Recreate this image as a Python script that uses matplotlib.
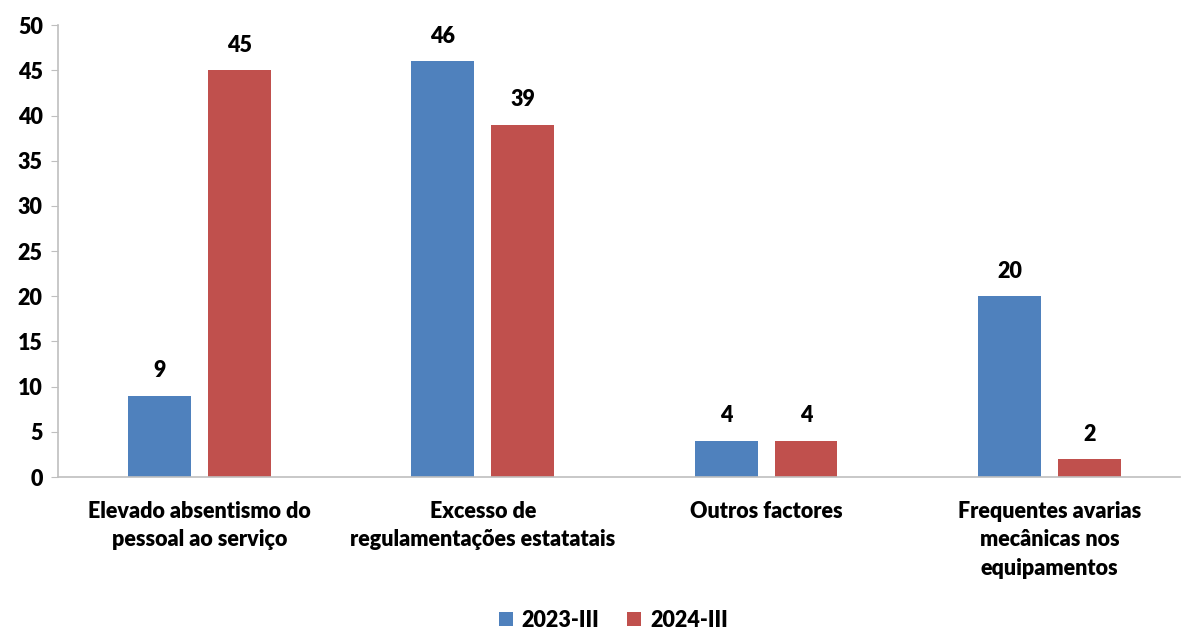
import numpy as np
import matplotlib.pyplot as plt

categories = ['Elevado absentismo do\npessoal ao serviço',
              'Excesso de\nregulamentações estatatais',
              'Outros factores',
              'Frequentes avarias\nmecânicas nos\nequipamentos']
series_names = ['2023-III', '2024-III']
vals_2023 = [9, 46, 4, 20]
vals_2024 = [45, 39, 4, 2]

colors = ['#4F81BD', '#C0504D']
plt.rcParams['font.family'] = ['Lato', 'DejaVu Sans']
fw = 'heavy'
fs = 15.5

fig = plt.figure(figsize=(11.84, 6.31), dpi=100)
ax = fig.add_axes([0.049, 0.244, 0.9476, 0.716])

x = np.arange(len(categories))
w = 0.222
off = 0.141
b1 = ax.bar(x - off, vals_2023, w, color=colors[0], label=series_names[0])
b2 = ax.bar(x + off, vals_2024, w, color=colors[1], label=series_names[1])

for bars in (b1, b2):
    for b in bars:
        ax.text(b.get_x() + b.get_width() / 2, b.get_height() + 1.6,
                '%d' % b.get_height(), ha='center', va='bottom',
                fontsize=fs, fontweight=fw)

# axis line is cut by the picture edge on the right
ax.set_xlim(-0.5, len(categories) - 0.5 - 11 / 283.3)
ax.set_ylim(0, 50)
ax.set_yticks(range(0, 51, 5))
ax.set_xticks(x)
ax.set_xticklabels(categories, fontsize=fs, fontweight=fw, linespacing=1.45)
ax.tick_params(axis='x', length=0, pad=17)
ax.tick_params(axis='y', labelsize=fs, color='#BFBFBF', length=5, pad=6)
for lab in ax.get_yticklabels():
    lab.set_fontweight(fw)

for s in ['top', 'right']:
    ax.spines[s].set_visible(False)
ax.spines['left'].set_color('#BFBFBF')
ax.spines['bottom'].set_color('#BFBFBF')
ax.spines['left'].set_linewidth(1.2)
ax.spines['bottom'].set_linewidth(1.2)

fig.legend(loc='lower center', bbox_to_anchor=(0.518, -0.03), ncol=2,
           frameon=False, prop={'size': fs, 'weight': fw},
           handlelength=0.65, handleheight=0.65, handletextpad=0.4,
           columnspacing=1.3)

fig.savefig('out.png', dpi=100)
